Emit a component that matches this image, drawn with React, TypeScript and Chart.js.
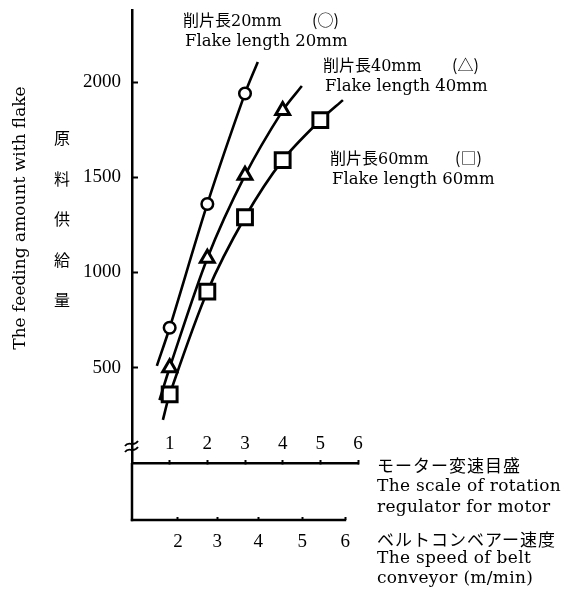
import React, { useEffect, useRef } from "react";
import { Chart, registerables } from "chart.js";
Chart.register(...registerables);

// ---- axis ticks ----
const motorTicks = [1, 2, 3, 4, 5, 6];
const beltSpeedLabels = ["2", "3", "4", "5", "6"];
const beltSpeedAtMotor = [1.22, 2.26, 3.35, 4.52, 5.66];
const feedTicks = [500, 1000, 1500, 2000];

// ---- measured points (motor scale -> feeding amount) ----
const flake20Motor = [1, 2, 3];
const flake20Feed = [710, 1360, 1940];
const flake40Motor = [1, 2, 3, 4];
const flake40Feed = [500, 1075, 1510, 1850];
const flake60Motor = [1, 2, 3, 4, 5];
const flake60Feed = [360, 900, 1290, 1590, 1800];

// ---- fitted curve end points beyond the measurements [motor, feed] ----
const flake20CurveStart = [0.66, 510];
const flake20CurveEnd = [3.34, 2105];
const flake40CurveStart = [0.73, 330];
const flake40CurveEnd = [4.51, 1979];
const flake60CurveStart = [0.82, 226];
const flake60CurveEnd = [5.6, 1905];

// ---- texts ----
const yTitleEn = "The feeding amount with flake";
const yTitleJa = ["原", "料", "供", "給", "量"];
const label20Ja = "削片長20mm";
const label20En = "Flake length 20mm";
const label40Ja = "削片長40mm";
const label40En = "Flake length 40mm";
const label60Ja = "削片長60mm";
const label60En = "Flake length 60mm";
const motorTitle = ["モーター変速目盛", "The scale of rotation", "regulator for motor"];
const beltTitle = ["ベルトコンベアー速度", "The speed of belt", "conveyor (m/min)"];

const SERIF = "'DejaVu Serif', 'Noto Sans CJK JP', serif";
const CJK = "'Noto Sans CJK JP', sans-serif";
const TICKFONT = { family: "'Liberation Serif', serif", size: 19 };

function buildSeries(start: number[], xs: number[], ys: number[], end: number[]) {
  return [
    { x: start[0], y: start[1] },
    ...xs.map((x, i) => ({ x, y: ys[i] })),
    { x: end[0], y: end[1] },
  ];
}

function makeDataset(label: string, data: any[], style: string, radius: number, bw: number) {
  const last = data.length - 1;
  return {
    label,
    data,
    borderColor: "#000",
    borderWidth: 2.6,
    tension: 0.3,
    pointStyle: style,
    pointRadius: (c: any) => (c.dataIndex === 0 || c.dataIndex === last ? 0 : radius),
    pointBackgroundColor: "#fff",
    pointBorderColor: "#000",
    pointBorderWidth: bw,
    fill: false,
  };
}

const decorPlugin = {
  id: "decor",
  afterDraw(chart: any) {
    const ctx = chart.ctx as CanvasRenderingContext2D;
    const y = chart.scales.y;
    const x2 = chart.scales.x2;
    ctx.save();
    ctx.strokeStyle = "#000";
    ctx.fillStyle = "#000";
    ctx.lineCap = "butt";
    // y axis continues down to the belt axis
    ctx.lineWidth = 2.5;
    ctx.beginPath();
    ctx.moveTo(y.right, chart.chartArea.bottom);
    ctx.lineTo(y.right, x2.top + 1.2);
    ctx.stroke();
    // belt axis line
    ctx.beginPath();
    ctx.moveTo(y.right - 1.2, x2.top);
    ctx.lineTo(x2.getPixelForValue(beltSpeedAtMotor[beltSpeedAtMotor.length - 1]) + 1, x2.top);
    ctx.stroke();
    // break mark
    ctx.lineWidth = 1.8;
    for (let i = 0; i < 2; i++) {
      const yy = 443 + i * 6;
      const cx = y.right;
      ctx.beginPath();
      ctx.moveTo(cx - 7, yy + 3);
      ctx.bezierCurveTo(cx - 3, yy - 3, cx + 1, yy + 5, cx + 6, yy - 2);
      ctx.stroke();
    }
    // y titles
    ctx.textBaseline = "middle";
    ctx.textAlign = "center";
    ctx.font = "17px " + SERIF;
    ctx.save();
    ctx.translate(21, 218);
    ctx.rotate(-Math.PI / 2);
    ctx.fillText(yTitleEn, 0, 0);
    ctx.restore();
    ctx.font = "16px " + CJK;
    yTitleJa.forEach((ch, i) => ctx.fillText(ch, 62, 138 + i * 40.5));

    // series labels
    ctx.textAlign = "left";
    ctx.textBaseline = "alphabetic";
    const jaLabel = (s: string, sym: string, lx: number, by: number, sx: number) => {
      ctx.font = "16px " + SERIF;
      ctx.fillText(s, lx, by);
      ctx.font = "16px " + CJK;
      ctx.fillText("(" + sym + ")", sx, by);
    };
    jaLabel(label20Ja, "○", 183, 26, 312);
    jaLabel(label40Ja, "△", 323, 71, 452);
    jaLabel(label60Ja, "□", 330, 164, 455);
    ctx.font = "16.5px " + SERIF;
    ctx.fillText(label20En, 185, 46);
    ctx.fillText(label40En, 325, 91);
    ctx.fillText(label60En, 332, 184);

    // axis titles at right
    const tx = 377;
    ctx.font = "17px " + CJK;
    (ctx as any).letterSpacing = "1px";
    ctx.fillText(motorTitle[0], tx, 472);
    ctx.fillText(beltTitle[0], tx, 546);
    (ctx as any).letterSpacing = "0.3px";
    ctx.font = "17px " + SERIF;
    ctx.fillText(motorTitle[1], tx, 491);
    ctx.fillText(motorTitle[2], tx, 512);
    ctx.fillText(beltTitle[1], tx, 563);
    ctx.fillText(beltTitle[2], tx, 583);
    ctx.restore();
  },
};

export default function App() {
  const ref = useRef<HTMLCanvasElement>(null);
  useEffect(() => {
    const chart = new Chart(ref.current!, {
      type: "line",
      data: {
        datasets: [
          makeDataset(label20En, buildSeries(flake20CurveStart, flake20Motor, flake20Feed, flake20CurveEnd), "circle", 5.8, 2.5),
          makeDataset(label40En, buildSeries(flake40CurveStart, flake40Motor, flake40Feed, flake40CurveEnd), "triangle", 8, 3),
          makeDataset(label60En, buildSeries(flake60CurveStart, flake60Motor, flake60Feed, flake60CurveEnd), "rect", 10.5, 3),
        ] as any,
      },
      options: {
        animation: false,
        responsive: false,
        devicePixelRatio: 1,
        layout: { autoPadding: false, padding: { left: 0, top: 10, right: 210, bottom: 31 } },
        plugins: { legend: { display: false }, tooltip: { enabled: false }, title: { display: false } },
        scales: {
          x: {
            type: "linear",
            position: "bottom",
            weight: 0,
            min: 0,
            max: 6,
            afterBuildTicks: (s: any) => { s.ticks = motorTicks.map((v) => ({ value: v })); },
            afterFit: (s: any) => { s.height = 57; s.paddingLeft = 0; s.paddingRight = 0; },
            grid: { drawOnChartArea: false, tickLength: -3, color: "#000", tickWidth: 2 },
            border: { display: true, color: "#000", width: 2.5 },
            ticks: {
              autoSkip: false,
              maxRotation: 0,
              mirror: true,
              color: "#000",
              font: TICKFONT,
              padding: 7.5,
              callback: (v: any) => String(v),
            },
          },
          x2: {
            type: "linear",
            position: "bottom",
            weight: 1,
            min: 0,
            max: 6,
            afterBuildTicks: (s: any) => { s.ticks = beltSpeedAtMotor.map((v) => ({ value: v })); },
            afterFit: (s: any) => { s.height = 40; s.paddingLeft = 0; s.paddingRight = 0; },
            grid: { drawOnChartArea: false, tickLength: -3, color: "#000", tickWidth: 2 },
            border: { display: false },
            ticks: {
              autoSkip: false,
              maxRotation: 0,
              color: "#000",
              font: TICKFONT,
              padding: 13.6,
              callback: (_v: any, i: number) => beltSpeedLabels[i],
            },
          },
          y: {
            type: "linear",
            position: "left",
            min: 0,
            max: 2378,
            afterBuildTicks: (s: any) => { s.ticks = feedTicks.map((v) => ({ value: v })); },
            afterFit: (s: any) => { s.width = 132; s.paddingTop = 0; s.paddingBottom = 0; },
            grid: { drawOnChartArea: false, tickLength: -6, color: "#000", tickWidth: 2 },
            border: { display: true, color: "#000", width: 2.5 },
            ticks: { autoSkip: false, color: "#000", font: TICKFONT, padding: 17, callback: (v: any) => String(v) },
          },
        },
      } as any,
      plugins: [decorPlugin],
    });
    return () => chart.destroy();
  }, []);
  return (
    <div style={{ position: "fixed", left: 0, top: 0, width: 568, height: 591, background: "#fff" }}>
      <canvas ref={ref} width={568} height={591} style={{ display: "block", width: 568, height: 591 }} />
    </div>
  );
}
